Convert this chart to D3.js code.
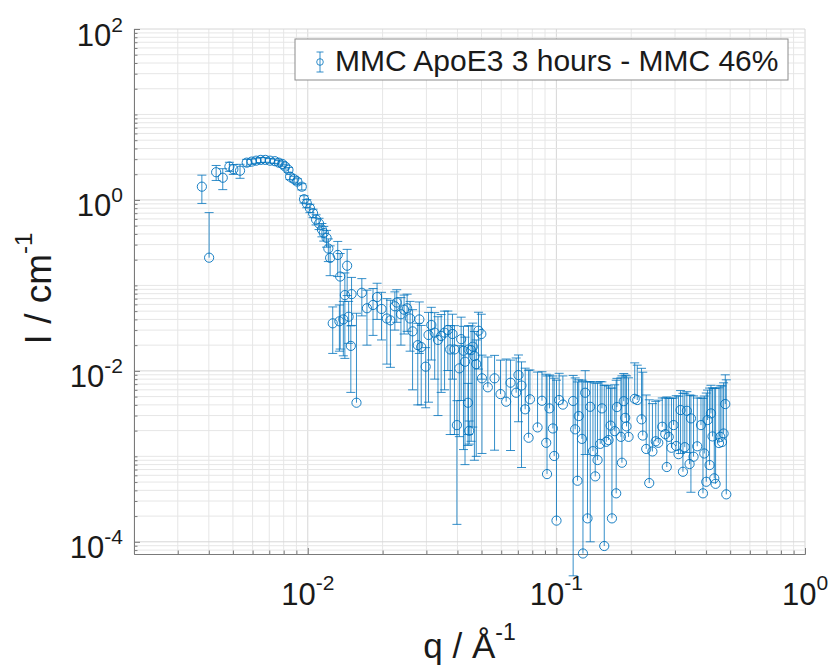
<!DOCTYPE html>
<html>
<head>
<meta charset="utf-8">
<script src="https://cdn.jsdelivr.net/npm/d3@7"></script>
<style>
  body { margin: 0; background: #fff; }
  text { font-family: "Liberation Sans", Arial, Helvetica, sans-serif; fill: #1a1a1a; }
</style>
</head>
<body>
<svg id="chart" width="835" height="670"></svg>
<script>
// q / Å^-1 : both detector settings, low q first
const qValues = [
  0.00375, 0.00401, 0.00428, 0.00455, 0.00484, 0.00502, 0.00534, 0.00568, 0.00595, 0.00620,
  0.00647, 0.00675, 0.00705, 0.00737, 0.00764, 0.00789, 0.00811, 0.00836, 0.00849, 0.00881,
  0.00908, 0.00946, 0.00966, 0.00991, 0.0102, 0.0105, 0.0108, 0.0111, 0.0114, 0.0116,
  0.0119, 0.0121, 0.0123, 0.0126, 0.0132, 0.0134, 0.0135, 0.0139, 0.0141, 0.0144,
  0.0146, 0.0149, 0.0150, 0.0157, 0.0165, 0.0173, 0.0183, 0.0190, 0.0198, 0.0208,
  0.0215, 0.0224, 0.0228, 0.0237, 0.0244, 0.0251, 0.0258, 0.0264, 0.0277, 0.0281,
  0.0286, 0.0298, 0.0306, 0.0314, 0.0324, 0.0334, 0.0344, 0.0355, 0.0366, 0.0374,
  0.0382, 0.0389, 0.0398, 0.0407, 0.0414, 0.0423, 0.0429, 0.0441, 0.0443, 0.0446,
  0.0454, 0.0461, 0.0468, 0.0476, 0.0486, 0.0499,
  0.0502, 0.0530, 0.0564, 0.0596, 0.0628, 0.0654, 0.0689, 0.0704, 0.0724, 0.0749,
  0.0773, 0.0783, 0.0840, 0.0875, 0.0910, 0.0917, 0.0938, 0.0968, 0.0980, 0.1001,
  0.1026, 0.1062, 0.1168, 0.1190, 0.1216, 0.1230, 0.1267, 0.1279, 0.1306, 0.1334,
  0.1368, 0.1403, 0.1433, 0.1464, 0.1501, 0.1525, 0.1558, 0.1587, 0.1621, 0.1652,
  0.1673, 0.1717, 0.1740, 0.1752, 0.1818, 0.1835, 0.1866, 0.1892, 0.1915, 0.1951,
  0.2066, 0.2115, 0.2200, 0.2225, 0.2298, 0.2363, 0.2434, 0.2510, 0.2569, 0.2666,
  0.2741, 0.2780, 0.2832, 0.2903, 0.2960, 0.3035, 0.3100, 0.3158, 0.3229, 0.3283,
  0.3348, 0.3433, 0.3477, 0.3562, 0.3686, 0.3816, 0.3887, 0.3934, 0.4008, 0.4056,
  0.4132, 0.4186, 0.4246, 0.4316, 0.4369, 0.4508, 0.4563, 0.4636, 0.4705, 0.4779,
  0.4824
];

// I / cm^-1
const intensity = [
  1.43, 0.211, 2.11, 1.82, 2.46, 2.29, 2.20, 2.73, 2.81, 2.88,
  2.94, 2.94, 2.88, 2.84, 2.73, 2.64, 2.46, 2.25, 1.87, 1.75,
  1.64, 1.43, 1.02, 0.91, 0.80, 0.70, 0.59, 0.53, 0.45, 0.41,
  0.36, 0.27, 0.21, 0.036, 0.227, 0.038, 0.127, 0.040, 0.077, 0.170,
  0.043, 0.0196, 0.079, 0.00424, 0.082, 0.054, 0.059, 0.073, 0.053, 0.041,
  0.039, 0.057, 0.063, 0.046, 0.052, 0.054, 0.041, 0.029, 0.020, 0.040,
  0.019, 0.0112, 0.0263, 0.0344, 0.028, 0.023, 0.0256, 0.028, 0.0301, 0.0178,
  0.027, 0.0178, 0.00232, 0.0107, 0.0235, 0.0172, 0.0128, 0.00424, 0.0178, 0.00199,
  0.0175, 0.0192, 0.0149, 0.0120, 0.0295, 0.027,
  0.00818, 0.00642, 0.00818, 0.00535, 0.00436, 0.00727, 0.00555, 0.00894, 0.00674, 0.00355,
  0.00165, 0.00465, 0.00218, 0.00447, 0.00144, 0.00062, 0.00364, 0.00212, 0.00101, 0.000177,
  0.00456, 0.00403, 0.00444, 0.00207, 0.000518, 0.00296, 0.0016, 0.000073, 0.00555, 0.000188,
  0.0038, 0.00115, 0.000583, 0.000905, 0.0014, 0.00364, 0.0000893, 0.00148, 0.00155, 0.00229,
  0.000188, 0.00197, 0.000369, 0.00377, 0.00169, 0.000842, 0.00442, 0.00282, 0.00224, 0.00169,
  0.00471, 0.00456, 0.00271, 0.00175, 0.00122, 0.000487, 0.00114, 0.0015, 0.00144, 0.00222,
  0.00182, 0.00075, 0.00169, 0.00126, 0.00232, 0.00132, 0.00106, 0.00348, 0.00066, 0.00128,
  0.00341, 0.000813, 0.00278, 0.00099, 0.00131, 0.00232, 0.000369, 0.00108, 0.000504, 0.00266,
  0.000791, 0.00318, 0.00171, 0.000553, 0.000477, 0.00143, 0.00169, 0.00147, 0.00185, 0.00409,
  0.000359
];

// symmetric error on I
const intensityErr = [
  0.52, 0.50, 0.42, 0.50, 0.30, 0.30, 0.41, 0.25, 0.20, 0.20,
  0.20, 0.18, 0.18, 0.17, 0.17, 0.16, 0.16, 0.15, 0.14, 0.14,
  0.13, 0.12, 0.10, 0.10, 0.09, 0.08, 0.08, 0.08, 0.08, 0.08,
  0.08, 0.08, 0.08, 0.020, 0.10, 0.021, 0.109, 0.025, 0.063, 0.094,
  0.022, 0.014, 0.045, 0.043, 0.038, 0.034, 0.033, 0.033, 0.030, 0.029,
  0.028, 0.027, 0.026, 0.026, 0.025, 0.025, 0.024, 0.023, 0.016, 0.024,
  0.015, 0.0075, 0.022, 0.021, 0.020, 0.020, 0.020, 0.022, 0.020, 0.016,
  0.019, 0.016, 0.00216, 0.009, 0.019, 0.016, 0.012, 0.0029, 0.016, 0.0006,
  0.016, 0.017, 0.014, 0.011, 0.019, 0.019,
  0.0071, 0.0081, 0.0070, 0.0080, 0.0094, 0.0061, 0.0086, 0.0064, 0.0060, 0.0072,
  0.0085, 0.0056, 0.0075, 0.0053, 0.0077, 0.0081, 0.0053, 0.0066, 0.0072, 0.0076,
  0.0048, 0.0047, 0.0044, 0.0062, 0.0069, 0.0049, 0.0062, 0.0075, 0.0045, 0.0072,
  0.0037, 0.0063, 0.0066, 0.0063, 0.0061, 0.0038, 0.0067, 0.0053, 0.0051, 0.0040,
  0.0061, 0.0049, 0.0074, 0.0044, 0.0066, 0.0079, 0.0049, 0.0061, 0.0065, 0.0066,
  0.0077, 0.0071, 0.0080, 0.0079, 0.0040, 0.0041, 0.0030, 0.0029, 0.0031, 0.0026,
  0.0030, 0.0042, 0.0031, 0.0035, 0.0025, 0.0038, 0.0040, 0.0024, 0.0048, 0.0042,
  0.0023, 0.0044, 0.0024, 0.0041, 0.0035, 0.0025, 0.0044, 0.0040, 0.0050, 0.0033,
  0.0055, 0.0036, 0.0046, 0.0057, 0.0058, 0.0049, 0.0050, 0.0052, 0.0054, 0.0049,
  0.0075
];

const qLimits = [0.002, 1];
const iLimits = [7.2e-5, 100];
const xMajorTicks = [0.01, 0.1, 1];
const yMajorTicks = [1e-4, 1e-2, 1, 100];
const legendLabel = "MMC ApoE3 3 hours - MMC 46%";

const plotL = 134, plotR = 805, plotT = 29, plotB = 554;
const blue = "#0072BD";

const svg = d3.select("#chart");

const x = d3.scaleLog().domain(qLimits).range([plotL, plotR]);
const y = d3.scaleLog().domain(iLimits).range([plotB, plotT]);

const isDecade = (d) => Math.abs(Math.log10(d) - Math.round(Math.log10(d))) < 1e-9;

// ---- grid (major + minor, MATLAB style) ----
const grid = svg.append("g").attr("class", "grid");
grid.selectAll("line.gx")
  .data(x.ticks())
  .join("line")
  .attr("class", "gx")
  .attr("x1", (d) => x(d)).attr("x2", (d) => x(d))
  .attr("y1", plotT).attr("y2", plotB)
  .attr("stroke", (d) => (isDecade(d) ? "#d6d6d6" : "#e6e6e6"))
  .attr("stroke-width", 1);
grid.selectAll("line.gy")
  .data(y.ticks())
  .join("line")
  .attr("class", "gy")
  .attr("x1", plotL).attr("x2", plotR)
  .attr("y1", (d) => y(d)).attr("y2", (d) => y(d))
  .attr("stroke", (d) => (yMajorTicks.some((m) => Math.abs(m - d) / m < 1e-9) ? "#d6d6d6" : "#e6e6e6"))
  .attr("stroke-width", 1);

// ---- axes: ticks point inward ----
const axisColor = "#7a7a7a";
function styleAxis(g) {
  g.selectAll("path, line").attr("stroke", axisColor);
  g.selectAll("text").remove();
}
const xMinor = x.ticks().filter((d) => !xMajorTicks.includes(d));
const yMinor = y.ticks().filter((d) => !yMajorTicks.some((m) => Math.abs(m - d) / m < 1e-9));

svg.append("g")
  .attr("transform", `translate(0,${plotB})`)
  .call(d3.axisBottom(x).tickValues(xMinor).tickSizeInner(-3.5).tickSizeOuter(0).tickFormat(""))
  .call(styleAxis);
svg.append("g")
  .attr("transform", `translate(0,${plotB})`)
  .call(d3.axisBottom(x).tickValues(xMajorTicks).tickSizeInner(-6).tickSizeOuter(0).tickFormat(""))
  .call(styleAxis);
svg.append("g")
  .attr("transform", `translate(${plotL},0)`)
  .call(d3.axisLeft(y).tickValues(yMinor).tickSizeInner(-3.5).tickSizeOuter(0).tickFormat(""))
  .call(styleAxis);
svg.append("g")
  .attr("transform", `translate(${plotL},0)`)
  .call(d3.axisLeft(y).tickValues(yMajorTicks).tickSizeInner(-6).tickSizeOuter(0).tickFormat(""))
  .call(styleAxis);

// tick labels as 10^n
function powerLabel(sel, d, supDy) {
  sel.append("tspan").text("10");
  sel.append("tspan")
    .attr("dy", supDy)
    .attr("font-size", 21)
    .text(String(Math.round(Math.log10(d))));
}
svg.append("g")
  .selectAll("text")
  .data(xMajorTicks)
  .join("text")
  .attr("x", (d) => x(d))
  .attr("y", plotB + 51)
  .attr("text-anchor", "middle")
  .attr("font-size", 31)
  .each(function (d) { powerLabel(d3.select(this), d, -15); });

svg.append("g")
  .selectAll("text")
  .data(yMajorTicks)
  .join("text")
  .attr("x", plotL - 11)
  .attr("y", (d) => y(d) + 16.5)
  .attr("text-anchor", "end")
  .attr("font-size", 31)
  .each(function (d) { powerLabel(d3.select(this), d, -14); });

// axis titles
const xTitle = svg.append("text")
  .attr("x", (plotL + plotR) / 2)
  .attr("y", 658)
  .attr("text-anchor", "middle")
  .attr("font-size", 35);
xTitle.append("tspan").text("q / Å");
xTitle.append("tspan").attr("dy", -18).attr("font-size", 23).text("-1");

const yTitle = svg.append("text")
  .attr("transform", `translate(51,${(plotT + plotB) / 2 - 3}) rotate(-90)`)
  .attr("text-anchor", "middle")
  .attr("font-size", 37);
yTitle.append("tspan").text("I / cm");
yTitle.append("tspan").attr("dy", -19).attr("font-size", 24).text("-1");

// ---- error bars + markers ----
const points = qValues.map((q, i) => ({ q, I: intensity[i], e: intensityErr[i] }));
const capW = 4.5;
const bars = svg.append("g").attr("class", "errorbars")
  .attr("stroke", blue).attr("stroke-width", 0.8).attr("fill", "none");

bars.selectAll("g")
  .data(points)
  .join("g")
  .each(function (d) {
    const g = d3.select(this);
    const cx = x(d.q);
    const top = y(d.I + d.e);
    const lowVal = d.I - d.e;
    // on a log axis a non-positive lower bound is dropped, as MATLAB does
    const bottom = lowVal > 0 ? y(lowVal) : y(d.I);
    g.append("line").attr("x1", cx).attr("x2", cx).attr("y1", top).attr("y2", bottom);
    g.append("line").attr("x1", cx - capW).attr("x2", cx + capW).attr("y1", top).attr("y2", top);
    if (lowVal > 0) {
      g.append("line").attr("x1", cx - capW).attr("x2", cx + capW).attr("y1", bottom).attr("y2", bottom);
    }
  });

svg.append("g").attr("class", "markers")
  .selectAll("circle")
  .data(points)
  .join("circle")
  .attr("cx", (d) => x(d.q))
  .attr("cy", (d) => y(d.I))
  .attr("r", 4.6)
  .attr("fill", "none")
  .attr("stroke", blue)
  .attr("stroke-width", 0.9);

// ---- legend ----
const leg = svg.append("g");
leg.append("rect")
  .attr("x", 295).attr("y", 39).attr("width", 493).attr("height", 41)
  .attr("fill", "#fff").attr("stroke", "#8c8c8c").attr("stroke-width", 1);
const li = leg.append("g").attr("stroke", blue).attr("stroke-width", 0.8).attr("fill", "none");
li.append("line").attr("x1", 320).attr("x2", 320).attr("y1", 52).attr("y2", 72);
li.append("line").attr("x1", 316.5).attr("x2", 323.5).attr("y1", 52).attr("y2", 52);
li.append("line").attr("x1", 316.5).attr("x2", 323.5).attr("y1", 72).attr("y2", 72);
li.append("circle").attr("cx", 320).attr("cy", 62).attr("r", 3.3);
leg.append("text")
  .attr("x", 335).attr("y", 71)
  .attr("font-size", 30)
  .text(legendLabel);
</script>
</body>
</html>
